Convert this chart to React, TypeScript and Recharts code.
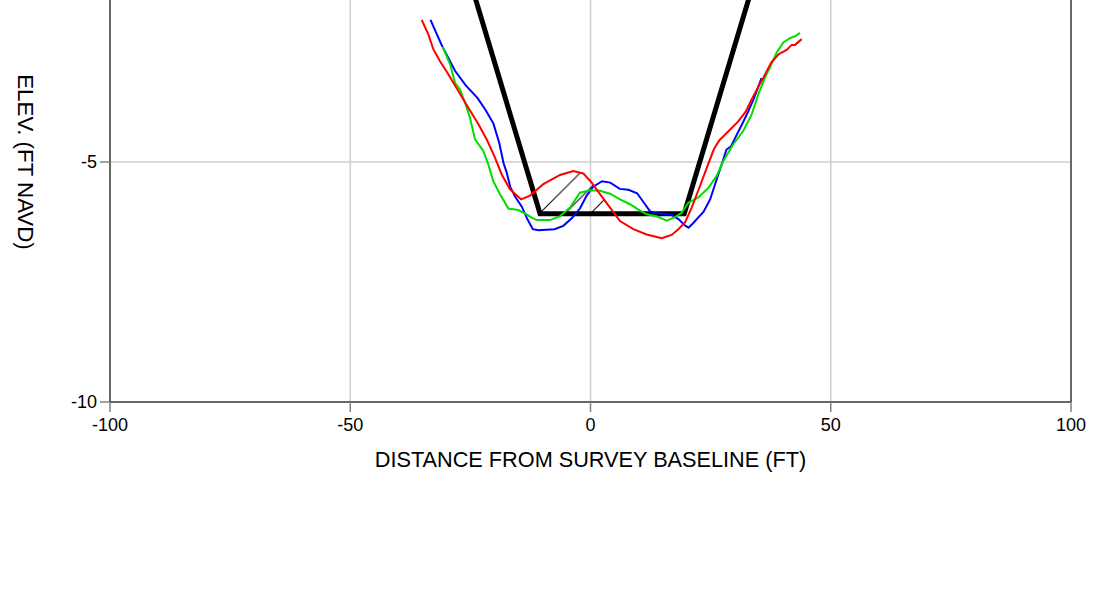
import React from 'react';
import {
  ComposedChart,
  Line,
  Area,
  XAxis,
  YAxis,
  CartesianGrid,
  ReferenceLine,
} from 'recharts';

const xTicks = [-100, -50, 0, 50, 100];
const yTicks = [-10, -5];
const xTitle = 'DISTANCE FROM SURVEY BASELINE (FT)';
const yTitle = 'ELEV. (FT NAVD)';

// design template (black)
const templateX = [-28.74, -10.5, 19.5, 37.74];
const templateY = [0, -6.08, -6.08, 0];

// survey profiles
const redX = [-35.13, -33.75, -32.71, -31.32, -29.59, -27.51, -25.43, -23.35, -21.6, -19.88, -18.48, -16.75, -14.46, -12.59, -9.82, -6.35, -3.58, -1.5, 0.25, 1.98, 4.06, 6.14, 8.91, 11.69, 14.81, 16.88, 18.28, 19.67, 21.06, 22.79, 24.35, 25.7, 26.8, 28.6, 30.7, 32.3, 33.5, 35.1, 36.0, 37.6, 39.2, 40.9, 41.86, 42.56, 43.95];
const redY = [-2.04, -2.34, -2.65, -2.9, -3.17, -3.52, -3.87, -4.21, -4.53, -4.91, -5.26, -5.57, -5.78, -5.7, -5.46, -5.27, -5.19, -5.24, -5.43, -5.67, -5.95, -6.23, -6.4, -6.51, -6.59, -6.52, -6.4, -6.26, -5.95, -5.5, -5.08, -4.73, -4.55, -4.37, -4.16, -3.95, -3.7, -3.4, -3.24, -2.93, -2.75, -2.66, -2.56, -2.56, -2.44];

const blueX = [-33.3, -31.0, -28.2, -26.0, -23.5, -21.8, -20.2, -19.0, -18.1, -17.5, -16.7, -15.7, -14.3, -13.1, -12.0, -10.8, -7.5, -5.66, -3.8, -2.19, -0.79, 0.5, 2.4, 4.1, 6.1, 7.9, 9.7, 11.2, 12.4, 13.8, 15.2, 16.9, 18.3, 19.67, 20.4, 21.4, 22.3, 23.5, 24.9, 26.3, 27.3, 28.3, 29.2, 30.4, 31.8, 32.9, 33.9, 34.6, 35.6];
const blueY = [-2.04, -2.56, -3.1, -3.4, -3.67, -3.92, -4.2, -4.6, -5.02, -5.2, -5.52, -5.72, -5.93, -6.2, -6.4, -6.42, -6.4, -6.33, -6.16, -5.97, -5.7, -5.52, -5.4, -5.43, -5.56, -5.58, -5.65, -5.86, -6.03, -6.07, -6.08, -6.1, -6.19, -6.32, -6.37, -6.27, -6.17, -6.04, -5.78, -5.35, -5.05, -4.74, -4.68, -4.44, -4.16, -3.93, -3.7, -3.52, -3.25];

const greenX = [-30.77, -29.24, -28.2, -27.16, -26.12, -25.08, -24.04, -22.31, -21.27, -20.23, -18.83, -17.1, -15.02, -13.28, -12.24, -11.2, -8.43, -6.35, -4.27, -2.19, -0.1, 1.98, 4.06, 6.14, 8.22, 9.96, 11.69, 13.77, 15.85, 17.59, 18.97, 20.36, 22.44, 24.52, 26.26, 27.64, 29.72, 31.81, 33.54, 34.92, 36.32, 37.36, 38.75, 40.13, 41.52, 42.56, 43.6];
const greenY = [-2.6, -2.96, -3.35, -3.49, -3.76, -4.08, -4.53, -4.77, -5.05, -5.4, -5.67, -5.97, -6.0, -6.09, -6.16, -6.21, -6.21, -6.13, -5.95, -5.64, -5.59, -5.6, -5.66, -5.78, -5.88, -5.99, -6.09, -6.13, -6.22, -6.15, -6.06, -5.85, -5.74, -5.54, -5.29, -4.98, -4.63, -4.35, -4.01, -3.59, -3.24, -3.03, -2.72, -2.51, -2.42, -2.38, -2.31];

// hatched region (survey above template)
const hatchX = [-11.8, -10.5, -9.82, -6.35, -3.58, -1.5, 0.25, 1.98, 4.06, 5.0];
const hatchTop = [-5.65, -5.58, -5.46, -5.27, -5.19, -5.24, -5.43, -5.67, -5.95, -6.08];
const hatchBottom = [-5.65, -6.08, -6.08, -6.08, -6.08, -6.08, -6.08, -6.08, -6.08, -6.08];

const zip = (xs: number[], ys: number[]) => xs.map((x, i) => ({ x, y: ys[i] }));
const templateData = zip(templateX, templateY);
const redData = zip(redX, redY);
const blueData = zip(blueX, blueY);
const greenData = zip(greenX, greenY);
const hatchData = hatchX.map((x, i) => ({ x, range: [hatchBottom[i], hatchTop[i]] }));

const FONT = '"Liberation Sans", Arial, Helvetica, sans-serif';

export default function App() {
  return (
    <div style={{ position: 'absolute', left: 0, top: -99 }}>
      <ComposedChart
        width={1106}
        height={700}
        margin={{ top: 21, right: 35, bottom: 139, left: 50 }}
        style={{ fontFamily: FONT }}
      >
        <defs>
          <pattern id="hatch" patternUnits="userSpaceOnUse" x={10.5} y={0} width={25.5} height={25.5}>
            <path d="M0,25.5 L25.5,0 M-3,3 L3,-3 M22.5,28.5 L28.5,22.5" stroke="#000" strokeWidth={1} />
          </pattern>
        </defs>
        <CartesianGrid stroke="#cfcfcf" strokeWidth={1.5} />
        <XAxis
          type="number"
          dataKey="x"
          domain={[-100, 100]}
          ticks={xTicks}
          allowDataOverflow
          height={60}
          tickSize={10}
          tickMargin={6}
          axisLine={{ stroke: '#404040', strokeWidth: 1.5 }}
          tickLine={{ stroke: '#808080', strokeWidth: 1.5 }}
          tick={{ fontSize: 18, fill: '#000', fontFamily: FONT }}
          label={{
            value: xTitle,
            content: (props: any) => {
              const vb = props.viewBox;
              return (
                <text
                  x={vb.x + vb.width / 2}
                  y={vb.y + 65}
                  textAnchor="middle"
                  fontSize={21.7}
                  fontFamily={FONT}
                  fill="#000"
                >
                  {xTitle}
                </text>
              );
            },
          }}
        />
        <YAxis
          type="number"
          domain={[-10, 0]}
          ticks={yTicks}
          allowDataOverflow
          width={60}
          tickSize={10}
          tickMargin={3}
          axisLine={{ stroke: '#404040', strokeWidth: 1.5 }}
          tickLine={{ stroke: '#808080', strokeWidth: 1.5 }}
          tick={{ fontSize: 18, fill: '#000', fontFamily: FONT }}
          label={{
            value: yTitle,
            content: (props: any) => {
              const vb = props.viewBox;
              const cx = vb.x + vb.width - 85;
              const cy = vb.y + vb.height / 2;
              return (
                <text
                  x={cx}
                  y={cy}
                  textAnchor="middle"
                  dominantBaseline="central"
                  transform={`rotate(90, ${cx}, ${cy})`}
                  fontSize={22.3}
                  fontFamily={FONT}
                  fill="#000"
                >
                  {yTitle}
                </text>
              );
            },
          }}
        />
        <ReferenceLine x={100} stroke="#404040" strokeWidth={1.5} />
        <ReferenceLine y={0} stroke="#404040" strokeWidth={1.5} />
        <Area
          data={hatchData}
          dataKey="range"
          type="linear"
          stroke="none"
          fill="url(#hatch)"
          fillOpacity={1}
          isAnimationActive={false}
          activeDot={false}
        />
        <Line
          data={templateData}
          dataKey="y"
          type="linear"
          stroke="#000"
          strokeWidth={5}
          dot={false}
          activeDot={false}
          isAnimationActive={false}
        />
        <Line
          data={blueData}
          dataKey="y"
          type="linear"
          stroke="#0000ff"
          strokeWidth={2}
          dot={false}
          activeDot={false}
          isAnimationActive={false}
        />
        <Line
          data={greenData}
          dataKey="y"
          type="linear"
          stroke="#00dd00"
          strokeWidth={2}
          dot={false}
          activeDot={false}
          isAnimationActive={false}
        />
        <Line
          data={redData}
          dataKey="y"
          type="linear"
          stroke="#ff0000"
          strokeWidth={2}
          dot={false}
          activeDot={false}
          isAnimationActive={false}
        />
      </ComposedChart>
    </div>
  );
}
